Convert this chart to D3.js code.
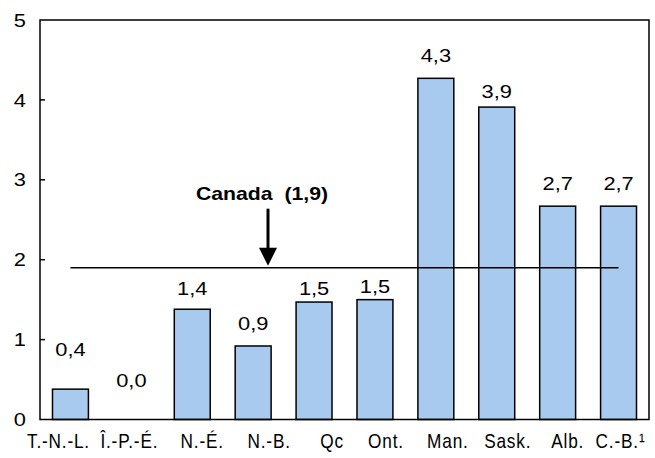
<!DOCTYPE html>
<html><head><meta charset="utf-8">
<script src="https://cdn.jsdelivr.net/npm/d3@7"></script>
<style>body{margin:0;background:#fff}svg{display:block}</style>
</head><body>
<svg id="c" width="655" height="458"></svg>
<script>
const categories = ["T.-N.-L.","Î.-P.-É.","N.-É.","N.-B.","Qc","Ont.","Man.","Sask.","Alb.","C.-B.¹"];
const values = [0.38, 0.0, 1.38, 0.92, 1.47, 1.5, 4.27, 3.91, 2.67, 2.67];
const valueLabels = ["0,4","0,0","1,4","0,9","1,5","1,5","4,3","3,9","2,7","2,7"];
const yTicks = [0,1,2,3,4,5];
const canadaValue = 1.9;
const canadaLabel = "Canada  (1,9)";

const svg = d3.select("#c");
const L = 40, R = 649, T = 20, B = 419.5;
const x = d3.scaleBand().domain(categories).range([L, R]).paddingInner(0.41).paddingOuter(0.205);
const y = d3.scaleLinear().domain([0, 5]).range([B, T]);
const SX = 1.18;
const SANS = "'Liberation Sans', Arial, sans-serif";

// bars
svg.selectAll("rect.bar").data(categories).join("rect")
  .attr("x", d => x(d)).attr("width", x.bandwidth())
  .attr("y", (d,i) => y(values[i])).attr("height", (d,i) => y(0) - y(values[i]))
  .attr("fill", "#A8CAEE").attr("stroke", "#000").attr("stroke-width", 1.5)
  .style("display", (d,i) => values[i] > 0 ? null : "none");

// frame
svg.append("rect").attr("x", L).attr("y", T).attr("width", R - L).attr("height", B - T)
  .attr("fill", "none").attr("stroke", "#000").attr("stroke-width", 1.5);

// y ticks (inward)
svg.selectAll("line.tk").data(yTicks.slice(1, -1)).join("line")
  .attr("x1", L).attr("x2", L + 5).attr("y1", d => y(d)).attr("y2", d => y(d))
  .attr("stroke", "#000").attr("stroke-width", 1.5);
svg.selectAll("text.yl").data(yTicks).join("text")
  .attr("transform", d => `translate(26,${y(d)}) scale(${SX},1)`)
  .attr("dy", "0.36em").attr("text-anchor", "end")
  .style("font-family", SANS).attr("font-size", 18.5)
  .text(d => d);

// category labels
const catNudge = [-12, -2, 10, 16, 18, 11, 12, 11, 10, 2];
svg.selectAll("text.cl").data(categories).join("text")
  .attr("transform", (d,i) => `translate(${x(d) + x.bandwidth()/2 + catNudge[i]},447.5) scale(0.82,1)`)
  .attr("text-anchor", "middle")
  .style("font-family", SANS)
  .style("letter-spacing", "1px")
  .attr("font-size", 21)
  .text(d => d);

// value labels
const gap = [33, 33, 14, 16, 7, 7, 16, 9, 16, 16];
svg.selectAll("text.vl").data(categories).join("text")
  .attr("transform", (d,i) => `translate(${x(d) + x.bandwidth()/2},${y(values[i]) - gap[i]}) scale(${SX},1)`)
  .attr("text-anchor", "middle")
  .style("font-family", SANS).attr("font-size", 18.5)
  .text((d,i) => valueLabels[i]);

// Canada line
const c0 = x(categories[0]) + x.bandwidth()/2, c1 = x(categories[categories.length-1]) + x.bandwidth()/2;
svg.append("line").attr("x1", c0).attr("x2", c1).attr("y1", y(canadaValue)).attr("y2", y(canadaValue))
  .attr("stroke", "#000").attr("stroke-width", 1.5);

// arrow + label
const ax = 268, ay = y(canadaValue);
svg.append("line").attr("x1", ax).attr("x2", ax).attr("y1", ay - 59).attr("y2", ay - 18)
  .attr("stroke", "#000").attr("stroke-width", 3);
svg.append("path").attr("d", `M${ax-9},${ay-20} L${ax+9},${ay-20} L${ax},${ay-2} Z`).attr("fill", "#000");
svg.append("text").attr("transform", `translate(262,200) scale(${SX},1)`)
  .attr("text-anchor", "middle").attr("font-weight", "bold")
  .style("font-family", SANS).attr("font-size", 18)
  .style("white-space", "pre")
  .text(canadaLabel);
</script>
</body></html>
